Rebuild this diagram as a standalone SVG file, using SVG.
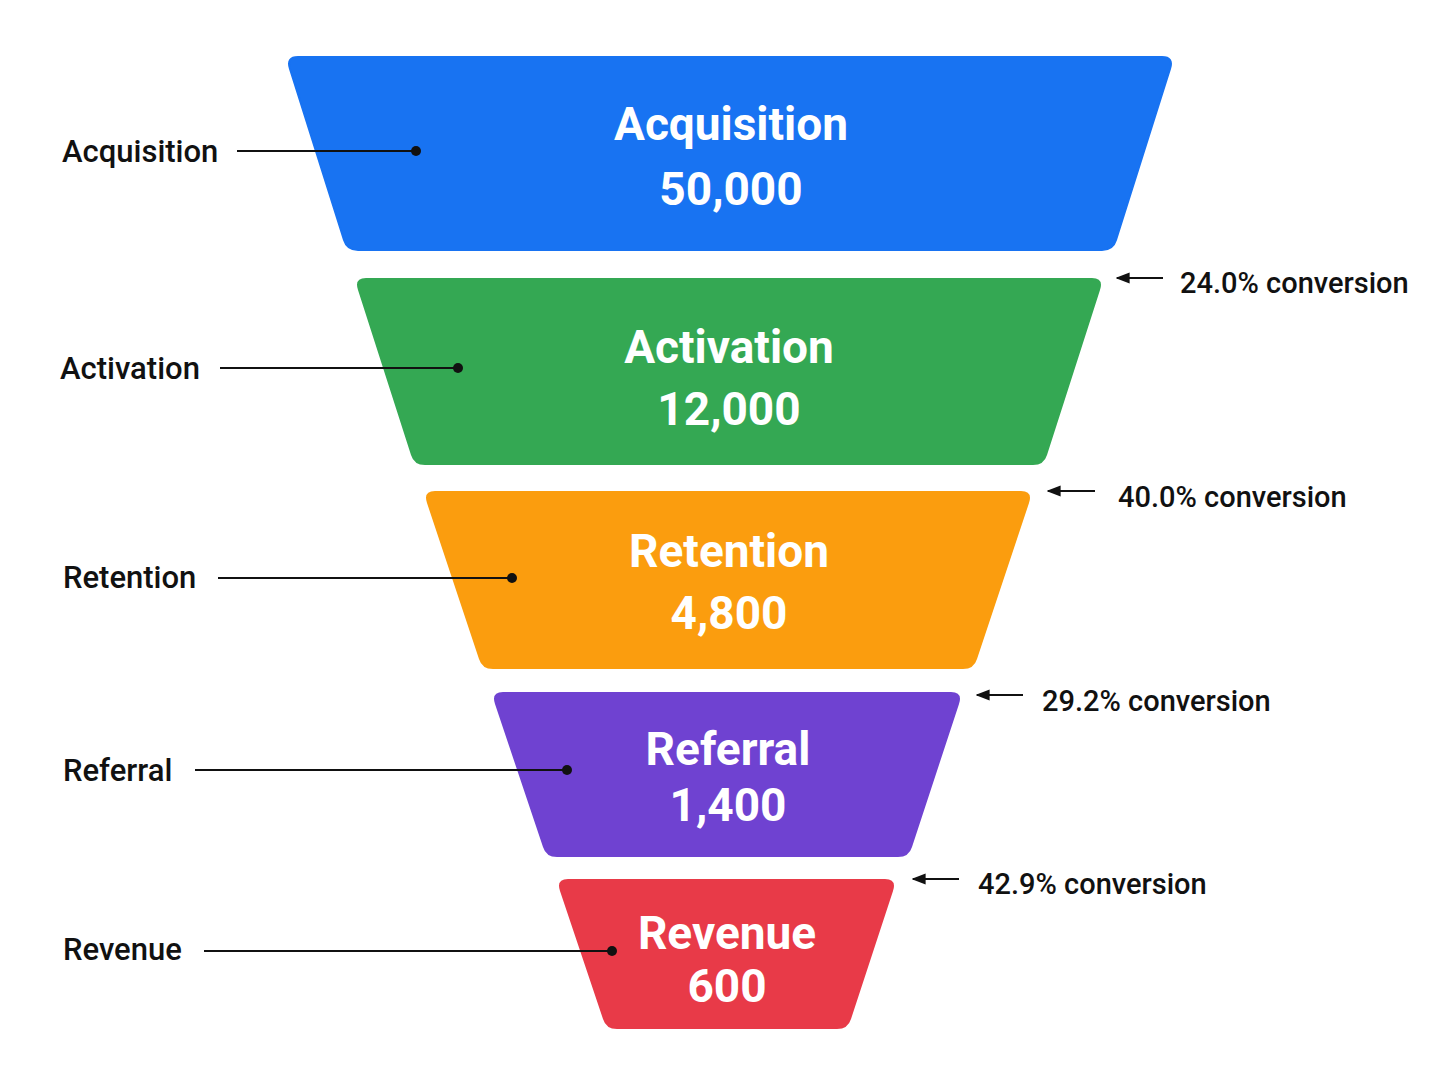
<svg xmlns="http://www.w3.org/2000/svg" width="1448" height="1086" viewBox="0 0 1448 1086">
<defs>
<marker id="ah" viewBox="0 0 10 10" refX="9" refY="5" markerWidth="7" markerHeight="7" orient="auto-start-reverse"><path d="M0,1 L10,5 L0,9 Z" fill="#111"/></marker>
<style>
.t{font-family:Roboto,"Liberation Sans",sans-serif;font-weight:bold;font-size:46px;fill:#fff;text-anchor:middle}
.l{font-family:Roboto,"Liberation Sans",sans-serif;font-weight:500;font-size:31px;fill:#111}
.c{font-family:Roboto,"Liberation Sans",sans-serif;font-weight:500;font-size:29px;fill:#111}
.ln{stroke:#111;stroke-width:2;fill:none}
.ar{stroke:#111;stroke-width:2;fill:none;marker-end:url(#ah)}
</style>
</defs>
<rect width="1448" height="1086" fill="#fff"/>
<g id="acquisition">
<path d="M298,57 L1162,57 Q1174,57 1170,69 L1116,240 Q1113,250 1102,250 L358,250 Q347,250 344,240 L290,69 Q286,57 298,57 Z" fill="#1873F2" stroke="#1873F2" stroke-width="2" stroke-linejoin="round"/>
<text class="t" x="731" y="140">Acquisition</text><text class="t" x="731" y="205">50,000</text>
</g>
<g id="activation">
<path d="M366,278 L1092,278 Q1104,278 1100,290 L1047,455 Q1044,465 1033,465 L425,465 Q414,465 411,455 L358,290 Q354,278 366,278 Z" fill="#34A853"/>
<text class="t" x="729" y="363">Activation</text><text class="t" x="729" y="425">12,000</text>
</g>
<g id="retention">
<path d="M435,491 L1021,491 Q1033,491 1029,503 L977,659 Q974,669 963,669 L493,669 Q482,669 479,659 L427,503 Q423,491 435,491 Z" fill="#FB9D0E"/>
<text class="t" x="729" y="567">Retention</text><text class="t" x="729" y="629">4,800</text>
</g>
<g id="referral">
<path d="M503,692 L951,692 Q963,692 959,704 L912,847 Q909,857 898,857 L557,857 Q546,857 543,847 L495,704 Q491,692 503,692 Z" fill="#6F42D1"/>
<text class="t" x="728" y="765">Referral</text><text class="t" x="728" y="821">1,400</text>
</g>
<g id="revenue">
<path d="M568,879 L885,879 Q897,879 893,891 L851,1019 Q848,1029 837,1029 L617,1029 Q606,1029 603,1019 L560,891 Q556,879 568,879 Z" fill="#E83A48"/>
<text class="t" x="727" y="949">Revenue</text><text class="t" x="727" y="1002">600</text>
</g>
<g id="labels">
<text class="l" x="62" y="162">Acquisition</text>
<text class="l" x="60" y="379">Activation</text>
<text class="l" x="63" y="588">Retention</text>
<text class="l" x="63" y="781">Referral</text>
<text class="l" x="63" y="960">Revenue</text>
<text class="c" x="1180" y="293">24.0% conversion</text>
<text class="c" x="1118" y="507">40.0% conversion</text>
<text class="c" x="1042" y="711">29.2% conversion</text>
<text class="c" x="978" y="894">42.9% conversion</text>
</g>
<g id="connectors">
<line class="ln" x1="237" y1="151" x2="416" y2="151"/><circle cx="416" cy="151" r="5" fill="#111"/>
<line class="ln" x1="220" y1="368" x2="458" y2="368"/><circle cx="458" cy="368" r="5" fill="#111"/>
<line class="ln" x1="218" y1="578" x2="512" y2="578"/><circle cx="512" cy="578" r="5" fill="#111"/>
<line class="ln" x1="195" y1="770" x2="567" y2="770"/><circle cx="567" cy="770" r="5" fill="#111"/>
<line class="ln" x1="204" y1="951" x2="612" y2="951"/><circle cx="612" cy="951" r="5" fill="#111"/>
<line class="ar" x1="1163" y1="278" x2="1117" y2="278"/>
<line class="ar" x1="1095" y1="491" x2="1048" y2="491"/>
<line class="ar" x1="1023" y1="695" x2="977" y2="695"/>
<line class="ar" x1="959" y1="879" x2="913" y2="879"/>
</g>
</svg>
